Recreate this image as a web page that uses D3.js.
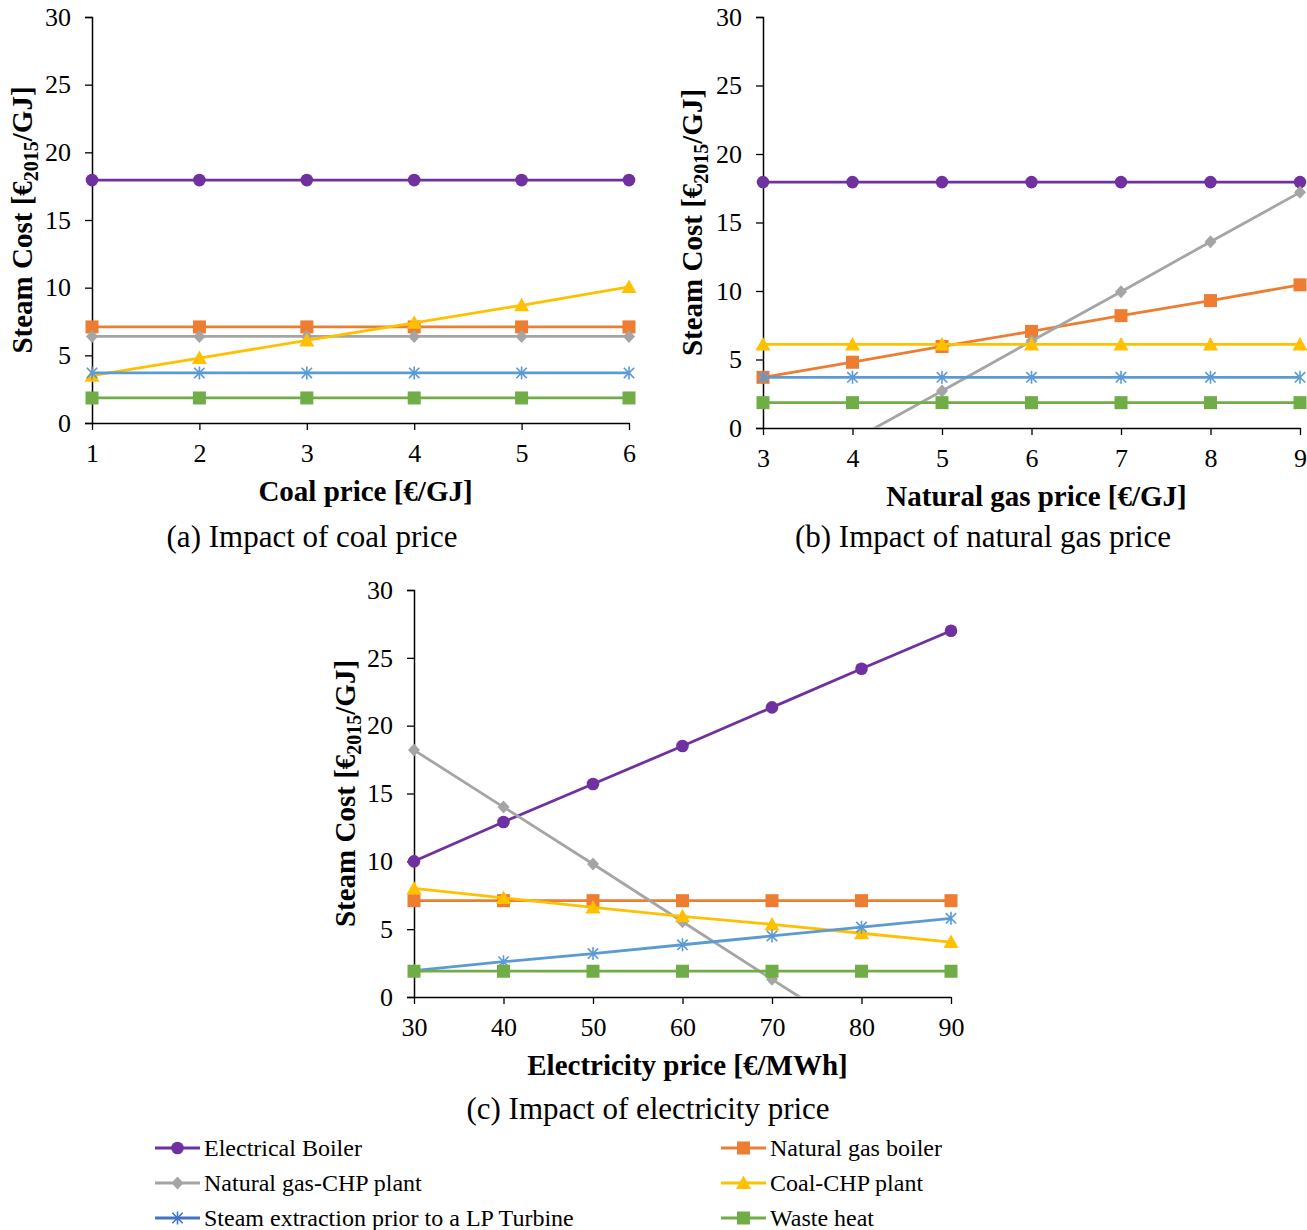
<!DOCTYPE html>
<html>
<head>
<meta charset="utf-8">
<script src="https://cdn.jsdelivr.net/npm/d3@7"></script>
<style>
  body { margin: 0; background: #fff; }
  svg { font-family: "Liberation Serif", "Times New Roman", serif; }
</style>
</head>
<body>
<div class="chartBox"></div>
<script>
var W = 1307, H = 1230;

var seriesNames = ['Electrical Boiler', 'Natural gas boiler', 'Natural gas-CHP plant',
                   'Coal-CHP plant', 'Steam extraction prior to a LP Turbine', 'Waste heat'];
var colors = ['#7030A0', '#ED7D31', '#A5A5A5', '#FFC000', '#5B9BD5', '#70AD47'];
var legendColors = ['#7030A0', '#ED7D31', '#A5A5A5', '#FFC000', '#4472C4', '#70AD47'];
var markers = ['circle', 'square', 'diamond', 'triangle', 'star', 'square'];
var yTicks = [0, 5, 10, 15, 20, 25, 30];

// (a) coal price
var coalPrice = [1, 2, 3, 4, 5, 6];
var coalCost = [
  [17.95, 17.95, 17.95, 17.95, 17.95, 17.95],
  [7.1, 7.1, 7.1, 7.1, 7.1, 7.1],
  [6.4, 6.4, 6.4, 6.4, 6.4, 6.4],
  [3.5, 4.8, 6.1, 7.4, 8.7, 10.05],
  [3.7, 3.7, 3.7, 3.7, 3.7, 3.7],
  [1.85, 1.85, 1.85, 1.85, 1.85, 1.85]
];

// (b) natural gas price
var gasPrice = [3, 4, 5, 6, 7, 8, 9];
var gasCost = [
  [17.95, 17.95, 17.95, 17.95, 17.95, 17.95, 17.95],
  [3.7, 4.8, 5.95, 7.05, 8.2, 9.3, 10.45],
  [-4.5, -0.9, 2.7, 6.35, 9.95, 13.6, 17.2],
  [6.1, 6.1, 6.1, 6.1, 6.1, 6.1, 6.1],
  [3.7, 3.7, 3.7, 3.7, 3.7, 3.7, 3.7],
  [1.85, 1.85, 1.85, 1.85, 1.85, 1.85, 1.85]
];

// (c) electricity price
var elecPrice = [30, 40, 50, 60, 70, 80, 90];
var elecCost = [
  [10.0, 12.9, 15.7, 18.5, 21.35, 24.2, 27.0],
  [7.1, 7.1, 7.1, 7.1, 7.1, 7.1, 7.1],
  [18.2, 14.0, 9.8, 5.55, 1.3, -2.9, -7.1],
  [8.0, 7.3, 6.6, 5.95, 5.35, 4.7, 4.05],
  [1.95, 2.6, 3.2, 3.85, 4.5, 5.15, 5.8],
  [1.9, 1.9, 1.9, 1.9, 1.9, 1.9, 1.9]
];

var panels = [
  { id: 'a', x: coalPrice, ys: coalCost, left: 92, right: 629, top: 17, bottom: 423,
    title: 'Coal price [€/GJ]', caption: '(a) Impact of coal price', ytx: 22, capX: 312, capY: 547 },
  { id: 'b', x: gasPrice, ys: gasCost, left: 763, right: 1300, top: 17, bottom: 428,
    title: 'Natural gas price [€/GJ]', caption: '(b) Impact of natural gas price', ytx: 692, capX: 983, capY: 547 },
  { id: 'c', x: elecPrice, ys: elecCost, left: 414, right: 951, top: 590, bottom: 997,
    title: 'Electricity price [€/MWh]', caption: '(c) Impact of electricity price', ytx: 345, capX: 648, capY: 1119 }
];

var svg = d3.select('div.chartBox').append('svg')
  .attr('width', W).attr('height', H);

function drawMarker(g, type, color, cx, cy) {
  if (type === 'circle') {
    g.append('circle').attr('cx', cx).attr('cy', cy).attr('r', 6.3).attr('fill', color);
  } else if (type === 'square') {
    g.append('rect').attr('x', cx - 6.5).attr('y', cy - 6.5).attr('width', 13).attr('height', 13).attr('fill', color);
  } else if (type === 'diamond') {
    g.append('path').attr('d', 'M' + cx + ',' + (cy - 6.5) + 'L' + (cx + 6) + ',' + cy + 'L' + cx + ',' + (cy + 6.5) + 'L' + (cx - 6) + ',' + cy + 'Z')
      .attr('fill', color);
  } else if (type === 'triangle') {
    g.append('path').attr('d', 'M' + cx + ',' + (cy - 7.5) + 'L' + (cx + 7.5) + ',' + (cy + 6) + 'L' + (cx - 7.5) + ',' + (cy + 6) + 'Z')
      .attr('fill', color);
  } else if (type === 'star') {
    var r = 6.5, d = r * 0.8;
    g.append('path')
      .attr('d', 'M' + cx + ',' + (cy - r) + 'V' + (cy + r) +
                 'M' + (cx - d) + ',' + (cy - d) + 'L' + (cx + d) + ',' + (cy + d) +
                 'M' + (cx - d) + ',' + (cy + d) + 'L' + (cx + d) + ',' + (cy - d))
      .attr('stroke', color).attr('stroke-width', 1.6).attr('fill', 'none');
  }
}

panels.forEach(function(p) {
  var x = d3.scaleLinear().domain(d3.extent(p.x)).range([p.left, p.right]);
  var y = d3.scaleLinear().domain([0, 30]).range([p.bottom, p.top]);

  svg.append('clipPath').attr('id', 'clip-' + p.id)
    .append('rect')
    .attr('x', p.left - 20).attr('y', p.top - 20)
    .attr('width', p.right - p.left + 40).attr('height', p.bottom - p.top + 20);

  // y axis
  var ya = svg.append('g')
    .attr('transform', 'translate(' + p.left + ',0)')
    .call(d3.axisLeft(y).tickValues(yTicks).tickSize(7).tickPadding(14));
  ya.select('.domain').attr('stroke-width', 1.5);
  ya.selectAll('.tick line').attr('stroke-width', 1.3);
  ya.selectAll('text').attr('font-size', 26).attr('font-family', 'Liberation Serif').attr('fill', '#000');

  // x axis
  var xa = svg.append('g')
    .attr('transform', 'translate(0,' + p.bottom + ')')
    .call(d3.axisBottom(x).tickValues(p.x).tickFormat(d3.format('d'))
      .tickSize(7).tickPadding(14).tickSizeOuter(0));
  xa.select('.domain').attr('stroke-width', 1.5);
  xa.selectAll('.tick line').attr('stroke-width', 1.3);
  xa.selectAll('text').attr('font-size', 26).attr('font-family', 'Liberation Serif').attr('fill', '#000');

  // series
  var plot = svg.append('g').attr('clip-path', 'url(#clip-' + p.id + ')');
  var line = d3.line().x(function(d) { return x(d[0]); }).y(function(d) { return y(d[1]); });

  p.ys.forEach(function(vals, i) {
    var pts = p.x.map(function(xv, j) { return [xv, vals[j]]; });
    var g = plot.append('g');
    g.append('path').datum(pts).attr('d', line)
      .attr('fill', 'none').attr('stroke', colors[i]).attr('stroke-width', 2.8);
    pts.forEach(function(d) {
      drawMarker(g, markers[i], colors[i], x(d[0]), y(d[1]));
    });
  });

  // x title
  svg.append('text')
    .attr('x', (p.left + p.right) / 2 + 5).attr('y', p.bottom + 78)
    .attr('text-anchor', 'middle').attr('font-size', 29).attr('font-weight', 'bold')
    .text(p.title);

  // y title
  var yt = svg.append('text')
    .attr('transform', 'translate(' + (p.ytx + 10) + ',' + ((p.top + p.bottom) / 2) + ') rotate(-90)')
    .attr('text-anchor', 'middle').attr('font-size', 29).attr('font-weight', 'bold');
  yt.append('tspan').text('Steam Cost [€');
  yt.append('tspan').attr('dy', 6).attr('font-size', 20).text('2015');
  yt.append('tspan').attr('dy', -6).text('/GJ]');

  // caption
  svg.append('text')
    .attr('x', p.capX).attr('y', p.capY)
    .attr('text-anchor', 'middle').attr('font-size', 31)
    .text(p.caption);
});

// legend
var legX = [155, 721];
var legY = [1148, 1183, 1218];
seriesNames.forEach(function(name, i) {
  var lx = legX[i % 2], ly = legY[Math.floor(i / 2)];
  var g = svg.append('g');
  g.append('line').attr('x1', lx).attr('x2', lx + 45).attr('y1', ly).attr('y2', ly)
    .attr('stroke', legendColors[i]).attr('stroke-width', 2.8);
  drawMarker(g, markers[i], legendColors[i], lx + 22.5, ly);
  g.append('text').attr('x', lx + 49).attr('y', ly + 8)
    .attr('font-size', 24).text(name);
});
</script>
</body>
</html>
